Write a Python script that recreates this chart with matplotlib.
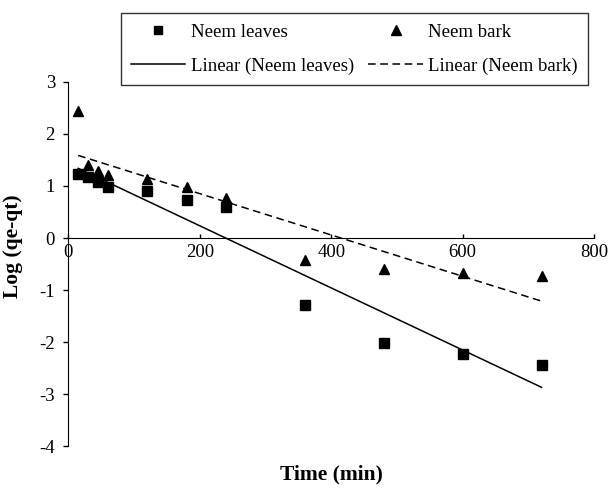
import numpy as np
import matplotlib.pyplot as plt

plt.rcParams['font.family'] = ['Liberation Serif', 'DejaVu Serif']
plt.rcParams['axes.unicode_minus'] = False

# Data
time = [15, 30, 45, 60, 120, 180, 240, 360, 480, 600, 720]
leaves = [1.23, 1.17, 1.07, 0.98, 0.90, 0.73, 0.60, -1.29, -2.01, -2.23, -2.45]
bark = [2.44, 1.40, 1.29, 1.21, 1.13, 0.99, 0.77, -0.42, -0.59, -0.68, -0.74]
xticks = [0, 200, 400, 600, 800]
yticks = [-4, -3, -2, -1, 0, 1, 2, 3]

t = np.array(time)
fit_l = np.polyfit(t, leaves, 1)
fit_b = np.polyfit(t, bark, 1)
tx = np.array([min(time), max(time)])

fig = plt.figure(figsize=(6.1, 4.88), dpi=100)
ax = fig.add_axes([0.112, 0.086, 0.862, 0.746])

h1, = ax.plot(time, leaves, 's', color='black', markersize=7, linestyle='none')
h2, = ax.plot(time, bark, '^', color='black', markersize=7.5, linestyle='none')
h3, = ax.plot(tx, np.polyval(fit_l, tx), '-', color='black', lw=1.1)
h4, = ax.plot(tx, np.polyval(fit_b, tx), '--', color='black', lw=1.1, dashes=(5, 3))

ax.set_xlim(0, 800)
ax.set_ylim(-4, 3)
ax.set_xticks(xticks)
ax.set_yticks(yticks)
ax.spines['top'].set_visible(False)
ax.spines['right'].set_visible(False)
ax.spines['bottom'].set_position(('data', 0))
ax.tick_params(axis='y', labelsize=13.5, direction='out', length=3.6, width=1, pad=6)
ax.tick_params(axis='x', labelsize=13.5, direction='in', length=3, width=1, pad=4)

ax.set_xlabel('Time (min)', fontsize=15.5, fontweight='bold')
ax.xaxis.set_label_coords(0.5, -0.052)
ax.set_ylabel('Log (qe-qt)', fontsize=15.5, fontweight='bold')
ax.yaxis.set_label_coords(-0.087, 0.55)

leg = fig.legend([h1, h3, h2, h4],
                 ['Neem leaves', 'Linear (Neem leaves)', 'Neem bark', 'Linear (Neem bark)'],
                 ncol=2, loc='upper left', bbox_to_anchor=(0.198, 0.973),
                 borderaxespad=0, frameon=True, fancybox=False, edgecolor='black',
                 fontsize=13.5, handlelength=2.9, handletextpad=0.3, columnspacing=0.75,
                 borderpad=0.55, labelspacing=0.9, markerscale=0.9)
leg.get_frame().set_linewidth(1)

fig.savefig('out.png', dpi=100)
